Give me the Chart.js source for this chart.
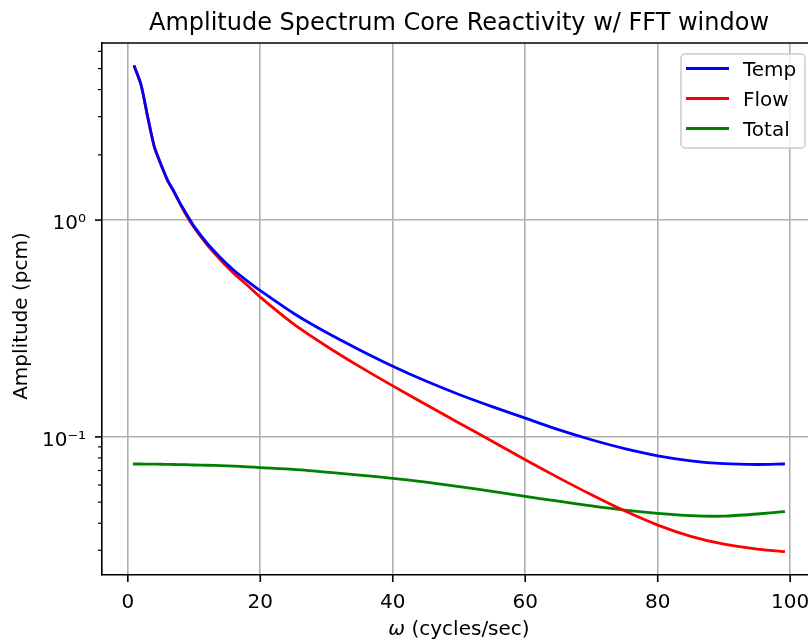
<!DOCTYPE html>
<html>
<head>
<meta charset="utf-8">
<script src="https://cdn.jsdelivr.net/npm/chart.js@4.4.1/dist/chart.umd.min.js"></script>
<style>
  html, body { margin: 0; padding: 0; overflow: hidden; background: #fff; }
  canvas { display: block; }
</style>
</head>
<body>
<canvas id="spectrum" width="830" height="640"></canvas>
<script>
// values (log y axis)
const freq = [1, 2, 3, 4, 5, 6, 7, 8, 9, 10, 12, 14, 16, 18, 20, 25, 30, 35, 40, 45, 50, 55, 60, 65, 70, 75, 80, 85, 90, 95, 99];
const temp = [5.1, 4.2, 3.0, 2.18, 1.81, 1.53, 1.35, 1.18, 1.05, 0.935, 0.78, 0.67, 0.587, 0.525, 0.473, 0.372, 0.303, 0.252, 0.212, 0.181, 0.157, 0.138, 0.122, 0.108, 0.097, 0.0883, 0.0818, 0.0776, 0.0753, 0.0746, 0.075];
const flow = [5.1, 4.2, 2.98, 2.17, 1.8, 1.52, 1.34, 1.17, 1.03, 0.925, 0.766, 0.655, 0.568, 0.502, 0.441, 0.332, 0.262, 0.211, 0.172, 0.141, 0.116, 0.0955, 0.0785, 0.0649, 0.0541, 0.0456, 0.0392, 0.0348, 0.032, 0.0304, 0.0296];
const total = [0.075, 0.075, 0.0749, 0.0749, 0.0748, 0.0747, 0.0746, 0.0745, 0.0744, 0.0742, 0.074, 0.0737, 0.0733, 0.0728, 0.0722, 0.0708, 0.0688, 0.0667, 0.0644, 0.0618, 0.059, 0.0561, 0.0532, 0.0505, 0.0481, 0.046, 0.0444, 0.0433, 0.0431, 0.0441, 0.0452];

const seriesNames = ["Temp", "Flow", "Total"];
const seriesColors = ["#0000ff", "#ff0000", "#008000"];

const xTicks = [0, 20, 40, 60, 80, 100];
const yMajor = [0.1, 1];
const yMinor = [0.03, 0.04, 0.05, 0.06, 0.07, 0.08, 0.09, 2, 3, 4, 5, 6];
const yLabels = { 0.1: "10\u207B\u00B9", 1: "10\u2070" };

const FONT = "'DejaVu Sans', sans-serif";

function toPoints(ys) {
  return freq.map((f, i) => ({ x: f, y: ys[i] }));
}

// spines, tick marks, titles and the in-axes legend
const decor = {
  id: "decor",
  afterDraw(chart) {
    const { ctx, chartArea: a, scales } = chart;
    const x = scales.x, y = scales.y;
    ctx.save();
    ctx.strokeStyle = "#000";
    ctx.lineWidth = 1.6;
    ctx.beginPath();
    ctx.moveTo(a.left - 0.8, a.top);
    ctx.lineTo(chart.width, a.top);
    ctx.stroke();

    xTicks.forEach(v => {
      const px = x.getPixelForValue(v);
      ctx.beginPath();
      ctx.moveTo(px, a.bottom);
      ctx.lineTo(px, a.bottom + 7);
      ctx.stroke();
    });
    yMajor.forEach(v => {
      const py = y.getPixelForValue(v);
      ctx.beginPath();
      ctx.moveTo(a.left, py);
      ctx.lineTo(a.left - 7, py);
      ctx.stroke();
    });
    ctx.lineWidth = 1.2;
    yMinor.forEach(v => {
      const py = y.getPixelForValue(v);
      ctx.beginPath();
      ctx.moveTo(a.left, py);
      ctx.lineTo(a.left - 4, py);
      ctx.stroke();
    });

    // title
    const cx = (a.left + a.right) / 2;
    ctx.fillStyle = "#000";
    ctx.textAlign = "center";
    ctx.textBaseline = "alphabetic";
    ctx.font = "24px " + FONT;
    ctx.fillText("Amplitude Spectrum Core Reactivity w/ FFT window", cx, 30);

    // x label: italic omega then plain text
    const part1 = "\u03C9", part2 = " (cycles/sec)";
    ctx.font = "italic 20px " + FONT;
    const w1 = ctx.measureText(part1).width;
    ctx.font = "20px " + FONT;
    const w2 = ctx.measureText(part2).width;
    let sx = cx - (w1 + w2) / 2;
    ctx.textAlign = "left";
    ctx.font = "italic 20px " + FONT;
    ctx.fillText(part1, sx, 635);
    ctx.font = "20px " + FONT;
    ctx.fillText(part2, sx + w1, 635);

    // y label
    ctx.save();
    ctx.translate(27, 316);
    ctx.rotate(-Math.PI / 2);
    ctx.textAlign = "center";
    ctx.fillText("Amplitude (pcm)", 0, 0);
    ctx.restore();

    // legend
    const lx1 = a.right - 135, ly1 = a.top + 11, lw = 124, lh = 94;
    ctx.fillStyle = "rgba(255,255,255,0.8)";
    ctx.strokeStyle = "#cccccc";
    ctx.lineWidth = 1.5;
    ctx.beginPath();
    ctx.roundRect(lx1, ly1, lw, lh, 4);
    ctx.fill();
    ctx.stroke();
    seriesNames.forEach((name, i) => {
      const ry = ly1 + 14.5 + i * 30;
      ctx.strokeStyle = seriesColors[i];
      ctx.lineWidth = 3;
      ctx.lineCap = "square";
      ctx.beginPath();
      ctx.moveTo(lx1 + 6.5, ry);
      ctx.lineTo(lx1 + 46.5, ry);
      ctx.stroke();
      ctx.fillStyle = "#000";
      ctx.font = "20px " + FONT;
      ctx.textAlign = "left";
      ctx.fillText(name, lx1 + 62, ry + 7);
    });
    ctx.restore();
  }
};

const ctx = document.getElementById("spectrum").getContext("2d");

const spectrumChart = new Chart(ctx, {
  type: "line",
  data: {
    datasets: [temp, flow, total].map((ys, i) => ({
      label: seriesNames[i],
      data: toPoints(ys),
      borderColor: seriesColors[i],
      backgroundColor: seriesColors[i],
      borderWidth: 2.8,
      borderCapStyle: "square",
      pointRadius: 0,
      tension: 0.25,
      fill: false,
    })),
  },
  options: {
    responsive: false,
    animation: false,
    layout: { padding: { top: 43, right: 14, left: 0, bottom: 0 } },
    plugins: {
      legend: { display: false },
      tooltip: { enabled: false },
      title: { display: false },
    },
    scales: {
      x: {
        type: "linear",
        min: -3.9,
        max: 103.9,
        afterBuildTicks: s => { s.ticks = xTicks.map(v => ({ value: v })); },
        afterFit: s => { s.height = 65; },
        grid: { color: "#b0b0b0", lineWidth: 1.6, drawTicks: false },
        border: { display: true, color: "#000", width: 1.6 },
        ticks: {
          padding: 16,
          autoSkip: false,
          maxRotation: 0,
          color: "#000",
          font: { family: FONT, size: 20 },
          callback: v => String(v),
        },
      },
      y: {
        type: "logarithmic",
        min: 0.02307,
        max: 6.56,
        afterBuildTicks: s => {
          s.ticks = yMajor.concat(yMinor).sort((p, q) => p - q).map(v => ({ value: v }));
        },
        afterFit: s => { s.width = 102; },
        grid: {
          color: c => (yMajor.includes(c.tick.value) ? "#b0b0b0" : "rgba(0,0,0,0)"),
          lineWidth: 1.6,
          drawTicks: false,
        },
        border: { display: true, color: "#000", width: 1.6 },
        ticks: {
          padding: 16,
          autoSkip: false,
          labelOffset: 4,
          color: "#000",
          font: { family: FONT, size: 20 },
          callback: v => yLabels[v] || "",
        },
      },
    },
  },
  plugins: [decor],
});
</script>
</body>
</html>
